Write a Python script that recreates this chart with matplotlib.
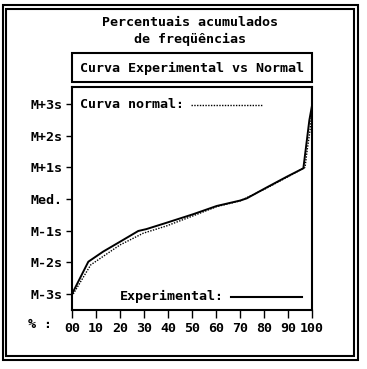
import matplotlib
matplotlib.use("Agg")
import matplotlib.pyplot as plt
from matplotlib.patches import Rectangle
from matplotlib.lines import Line2D

# DOS-like look
plt.rcParams.update({
    "font.family": "DejaVu Sans Mono",
    "font.weight": "bold",
    "font.size": 9.6,
})

W, H = 367, 369

# cumulative percent vs. position in standard deviations
pct_exp = [0, 6.8, 13, 20, 27.6, 31, 39.4, 50.5, 60.3, 70, 72.8, 81, 89.4, 96.4, 98.9, 100]
s_exp = [-3, -1.98, -1.66, -1.35, -1.01, -0.95, -0.75, -0.48, -0.22, -0.05, 0.02,
         0.36, 0.70, 0.97, 2.49, 2.95]

pct_norm = [0.5, 7.8, 20, 29.7, 39.4, 50.5, 60.3, 70, 81, 89.4, 97.1, 98.0, 99.2, 100]
s_norm = [-3, -2.08, -1.45, -1.08, -0.85, -0.53, -0.24, -0.06, 0.34, 0.68, 1.0,
          1.55, 2.18, 2.85]

y_ticks = [3, 2, 1, 0, -1, -2, -3]
y_labels = ["M+3s", "M+2s", "M+1s", "Med.", "M-1s", "M-2s", "M-3s"]
x_ticks = [0, 10, 20, 30, 40, 50, 60, 70, 80, 90, 100]
x_labels = ["00", "10", "20", "30", "40", "50", "60", "70", "80", "90", "100"]


def fx(x):
    return x / W


def fy(y):
    return 1 - y / H


fig = plt.figure(figsize=(W / 100, H / 100), dpi=100)
fig.patch.set_facecolor("white")

# double frame
for x0, y0, x1, y1 in [(2.5, 4.5, 358, 360), (6, 8.5, 353.5, 356)]:
    fig.add_artist(Rectangle((fx(x0), fy(y1)), fx(x1 - x0), (y1 - y0) / H,
                             transform=fig.transFigure, fill=False,
                             edgecolor="black", lw=1.5))

fig.text(fx(190), fy(23), "Percentuais acumulados", ha="center", va="center")
fig.text(fx(190), fy(39), "de freqüências", ha="center", va="center")

# subtitle box
fig.add_artist(Rectangle((fx(72), fy(82)), fx(240), 29 / H,
                         transform=fig.transFigure, fill=False,
                         edgecolor="black", lw=1.5))
fig.text(fx(192), fy(68), "Curva Experimental vs Normal", ha="center", va="center")

ax = fig.add_axes([fx(72), fy(310), fx(240), 223 / H])
ax.plot(pct_norm, s_norm, color="black", lw=1.0, linestyle=(0, (1, 1)))
ax.plot(pct_exp, s_exp, color="black", lw=1.4)

ax.set_xlim(0, 100)
ax.set_ylim(-3.505, 3.537)
ax.set_yticks(y_ticks)
ax.set_yticklabels(y_labels)
ax.set_xticks(x_ticks)
ax.set_xticklabels(x_labels)
ax.tick_params(axis="y", length=4, width=1, pad=3, labelsize=9.6)
ax.tick_params(axis="x", length=6, width=1, pad=3, labelsize=9.6)
for sp in ax.spines.values():
    sp.set_linewidth(1.5)

fig.text(fx(28), fy(325), "% :", ha="left", va="center")

# legend entries drawn as in the original
fig.text(fx(80), fy(104), "Curva normal:", ha="left", va="center")
fig.add_artist(Line2D([fx(191), fx(263)], [fy(105), fy(105)], transform=fig.transFigure,
                      color="black", lw=1.0, linestyle=(0, (1, 1))))
fig.text(fx(120), fy(296), "Experimental:", ha="left", va="center")
fig.add_artist(Line2D([fx(231), fx(302)], [fy(297), fy(297)], transform=fig.transFigure,
                      color="black", lw=1.5))

fig.savefig("out.png", dpi=100, facecolor="white")
